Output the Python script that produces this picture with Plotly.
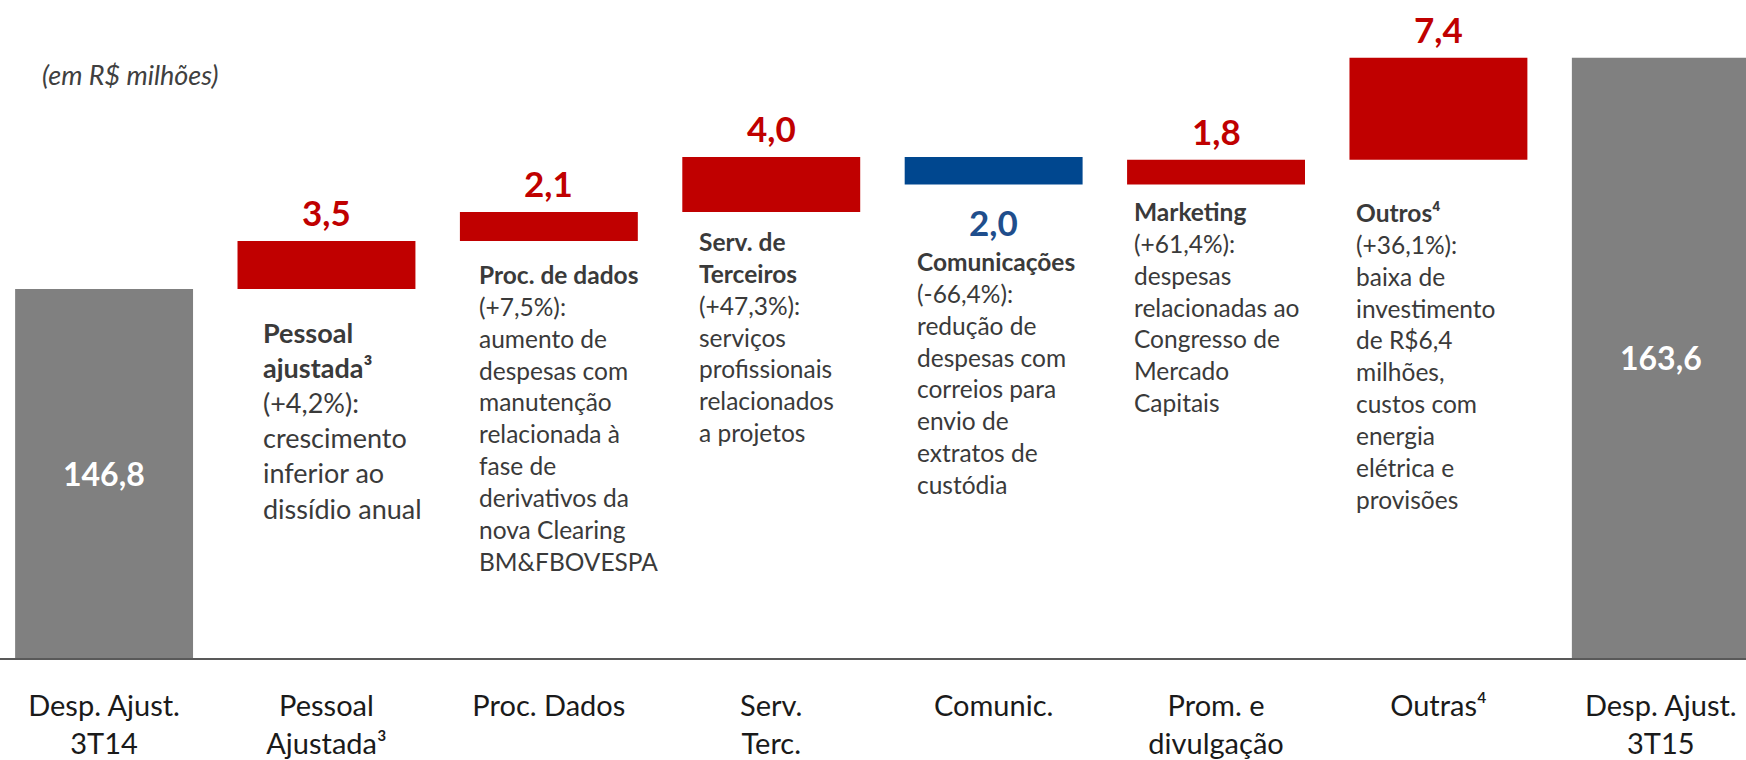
import plotly.graph_objects as go

# ---- data -------------------------------------------------------------
categories = [
    "Desp. Ajust.<br>3T14",
    "Pessoal<br>Ajustada³",
    "Proc. Dados",
    "Serv.<br>Terc.",
    "Comunic.",
    "Prom. e<br>divulgação",
    "Outras⁴",
    "Desp. Ajust.<br>3T15",
]
measures = ["absolute", "relative", "relative", "relative",
            "relative", "relative", "relative", "total"]
values = [146.8, 3.5, 2.1, 4.0, -2.0, 1.8, 7.4, 0]

notes = [
    None,
    "<b>Pessoal<br>ajustada³</b><br>(+4,2%):<br>crescimento<br>inferior ao<br>dissídio anual",
    "<b>Proc. de dados</b><br>(+7,5%):<br>aumento de<br>despesas com<br>manutenção<br>"
    "relacionada à<br>fase de<br>derivativos da<br>nova Clearing<br>BM&amp;FBOVESPA",
    "<b>Serv. de<br>Terceiros</b><br>(+47,3%):<br>serviços<br>profissionais<br>relacionados<br>a projetos",
    "<b>Comunicações</b><br>(-66,4%):<br>redução de<br>despesas com<br>correios para<br>envio de<br>"
    "extratos de<br>custódia",
    "<b>Marketing</b><br>(+61,4%):<br>despesas<br>relacionadas ao<br>Congresso de<br>Mercado<br>Capitais",
    "<b>Outros⁴</b><br>(+36,1%):<br>baixa de<br>investimento<br>de R$6,4<br>milhões,<br>custos com<br>"
    "energia<br>elétrica e<br>provisões",
    None,
]

unit_label = "(em R$ milhões)"

# ---- style ------------------------------------------------------------
FONT = "Lato, 'Open Sans', sans-serif"
RED = "#C00000"
BLUE = "#00478F"
BLUE_TXT = "#1F4E8C"
GRAY = "#808080"
TXT = "#3A3A3A"
Y_MIN, Y_MAX = 120, 167.8

# note box placement relative to its bar: (px right of bar left, px below bar bottom, font size)
note_style = [None, (23, 25, 27), (17, 17, 24.5), (15, 13, 24.5),
              (10, 61, 24.5), (5, 11, 24.5), (5, 36, 24.5), None]


def fmt(v):
    return f"{v:.1f}".replace(".", ",")


# running levels to place the labels
spans = []
level = 0.0
for m, v in zip(measures, values):
    if m == "absolute":
        level = v
        spans.append((0.0, level))
    elif m == "relative":
        spans.append((level, level + v))
        level += v
    else:
        spans.append((0.0, level))

fig = go.Figure(
    go.Waterfall(
        x=list(range(len(categories))),
        y=values,
        measure=measures,
        increasing=dict(marker=dict(color=RED)),
        decreasing=dict(marker=dict(color=BLUE)),
        totals=dict(marker=dict(color=GRAY)),
        connector=dict(visible=False),
        hoverinfo="skip",
    )
)

annotations = []
for i, (m, v, (a, b)) in enumerate(zip(measures, values, spans)):
    if m in ("absolute", "total"):
        annotations.append(dict(
            x=i, y=(Y_MIN + b) / 2, text=f"<b>{fmt(b)}</b>", showarrow=False,
            font=dict(family=FONT, size=32, color="white"),
        ))
    elif v >= 0:
        annotations.append(dict(
            x=i, y=b, yshift=29, text=f"<b>{fmt(v)}</b>", showarrow=False,
            font=dict(family=FONT, size=35, color=RED),
        ))
    else:
        annotations.append(dict(
            x=i, y=b, yshift=-38, text=f"<b>{fmt(-v)}</b>", showarrow=False,
            font=dict(family=FONT, size=35, color=BLUE_TXT),
        ))
    if notes[i]:
        dx, dy, fs = note_style[i]
        annotations.append(dict(
            x=i - 0.4, y=min(a, b), xshift=dx, yshift=-dy,
            xanchor="left", yanchor="top", align="left",
            text=notes[i], showarrow=False,
            font=dict(family=FONT, size=fs, color=TXT),
        ))

annotations.append(dict(
    xref="paper", yref="paper", x=40 / 1746, y=1 - 75 / 660,
    xanchor="left", yanchor="middle", text=f"<i>{unit_label}</i>",
    showarrow=False, font=dict(family=FONT, size=27, color="#404040"),
))

fig.update_layout(
    width=1746,
    height=760,
    margin=dict(l=0, r=0, t=0, b=100),
    paper_bgcolor="white",
    plot_bgcolor="white",
    showlegend=False,
    waterfallgap=0.2,
    annotations=annotations,
    font=dict(family=FONT),
)
fig.update_xaxes(
    range=[-0.468, 7.383],
    tickmode="array",
    tickvals=list(range(len(categories))),
    ticktext=categories,
    tickfont=dict(family=FONT, size=29, color="#1A1A1A"),
    showline=True,
    linecolor="#595959",
    linewidth=2,
    showgrid=False,
    zeroline=False,
    ticklabelstandoff=21,
)
fig.update_yaxes(range=[Y_MIN, Y_MAX], visible=False)

fig.write_html(
    "out.html",
    config={"displayModeBar": False},
    post_script="document.body.style.margin='0';",
)
